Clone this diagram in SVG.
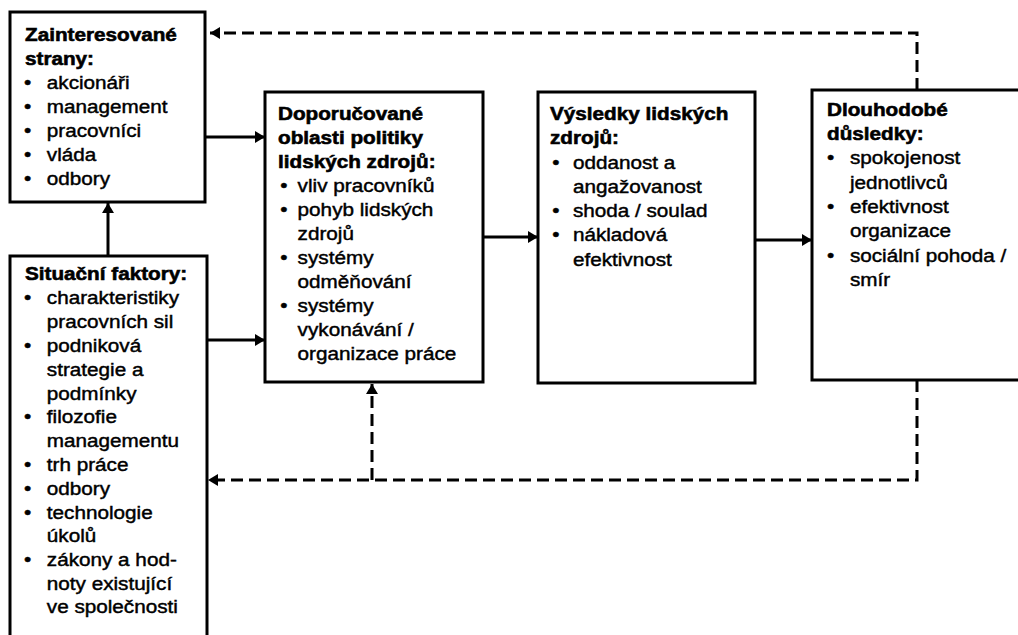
<svg xmlns="http://www.w3.org/2000/svg" width="1018" height="635" viewBox="0 0 1018 635">
<style>
.box{fill:#fff;stroke:#000;stroke-width:3}
.t{font-family:"Liberation Sans",Arial,sans-serif;font-size:19px;font-weight:normal;fill:#000;stroke:#000;stroke-width:0.45}
.t .h{font-weight:bold;stroke-width:0.6}
.c{fill:none;stroke:#000;stroke-width:3}
.d{fill:none;stroke:#000;stroke-width:3;stroke-dasharray:12 6}
</style>
<defs>
<marker id="ah" viewBox="0 0 10 12" refX="10" refY="6" markerWidth="10" markerHeight="12" markerUnits="userSpaceOnUse" orient="auto">
<path d="M0,0 L10,6 L0,12 z" fill="#000"/>
</marker>
</defs>
<rect width="1018" height="635" fill="#fff"/>
<g id="connectors">
<path class="c" d="M205,137 L265,137" marker-end="url(#ah)"/>
<path class="c" d="M207,340 L265,340" marker-end="url(#ah)"/>
<path class="c" d="M108,256 L108,203" marker-end="url(#ah)"/>
<path class="c" d="M483,237 L538,237" marker-end="url(#ah)"/>
<path class="c" d="M755,240 L812,240" marker-end="url(#ah)"/>
<path class="d" d="M917,90 L917,33 L210,33" marker-end="url(#ah)"/>
<path class="d" d="M917,380 L917,480 L208,480" marker-end="url(#ah)"/>
<path class="d" d="M372,480 L372,384" marker-end="url(#ah)"/>
</g>
<g id="stakeholders">
<rect class="box" x="10" y="12" width="195" height="190"/>
<g class="t" transform="translate(25 0) scale(1.09 1)">
<text class="h" x="0" y="41">Zainteresované</text>
<text class="h" x="0" y="65">strany:</text>
<text x="-1" y="89">•</text><text x="20" y="89">akcionáři</text>
<text x="-1" y="113">•</text><text x="20" y="113">management</text>
<text x="-1" y="137">•</text><text x="20" y="137">pracovníci</text>
<text x="-1" y="161">•</text><text x="20" y="161">vláda</text>
<text x="-1" y="185">•</text><text x="20" y="185">odbory</text>
</g>
</g>
<g id="situational">
<rect class="box" x="10" y="256" width="197" height="400"/>
<g class="t" transform="translate(25 0) scale(1.09 1)">
<text class="h" x="0" y="280">Situační faktory:</text>
<text x="-1" y="304">•</text><text x="20" y="304">charakteristiky</text>
<text x="20" y="328">pracovních sil</text>
<text x="-1" y="352">•</text><text x="20" y="352">podniková</text>
<text x="20" y="376">strategie a</text>
<text x="20" y="400">podmínky</text>
<text x="-1" y="423">•</text><text x="20" y="423">filozofie</text>
<text x="20" y="447">managementu</text>
<text x="-1" y="471">•</text><text x="20" y="471">trh práce</text>
<text x="-1" y="495">•</text><text x="20" y="495">odbory</text>
<text x="-1" y="519">•</text><text x="20" y="519">technologie</text>
<text x="20" y="542">úkolů</text>
<text x="-1" y="566">•</text><text x="20" y="566">zákony a hod-</text>
<text x="20" y="590">noty existující</text>
<text x="20" y="613">ve společnosti</text>
</g>
</g>
<g id="policy">
<rect class="box" x="265" y="92" width="218" height="290"/>
<g class="t" transform="translate(278 0) scale(1.09 1)">
<text class="h" x="0" y="120">Doporučované</text>
<text class="h" x="0" y="144">oblasti politiky</text>
<text class="h" x="0" y="168">lidských zdrojů:</text>
<text x="2" y="192">•</text><text x="18" y="192">vliv pracovníků</text>
<text x="2" y="216">•</text><text x="18" y="216">pohyb lidských</text>
<text x="18" y="240">zdrojů</text>
<text x="2" y="264">•</text><text x="18" y="264">systémy</text>
<text x="18" y="288">odměňování</text>
<text x="2" y="312">•</text><text x="18" y="312">systémy</text>
<text x="18" y="336">vykonávání  /</text>
<text x="18" y="360">organizace práce</text>
</g>
</g>
<g id="outcomes">
<rect class="box" x="538" y="92" width="217" height="291"/>
<g class="t" transform="translate(550 0) scale(1.09 1)">
<text class="h" x="0" y="120">Výsledky lidských</text>
<text class="h" x="0" y="144">zdrojů:</text>
<text x="2" y="169">•</text><text x="21" y="169">oddanost a</text>
<text x="21" y="193">angažovanost</text>
<text x="2" y="217">•</text><text x="21" y="217">shoda / soulad</text>
<text x="2" y="241">•</text><text x="21" y="241">nákladová</text>
<text x="21" y="266">efektivnost</text>
</g>
</g>
<g id="longterm">
<rect class="box" x="812" y="90" width="220" height="290"/>
<g class="t" transform="translate(827 0) scale(1.09 1)">
<text class="h" x="0" y="116">Dlouhodobé</text>
<text class="h" x="0" y="140">důsledky:</text>
<text x="0" y="164">•</text><text x="21" y="164">spokojenost</text>
<text x="21" y="189">jednotlivců</text>
<text x="0" y="213">•</text><text x="21" y="213">efektivnost</text>
<text x="21" y="237">organizace</text>
<text x="0" y="262">•</text><text x="21" y="262">sociální pohoda /</text>
<text x="21" y="286">smír</text>
</g>
</g>
</svg>
